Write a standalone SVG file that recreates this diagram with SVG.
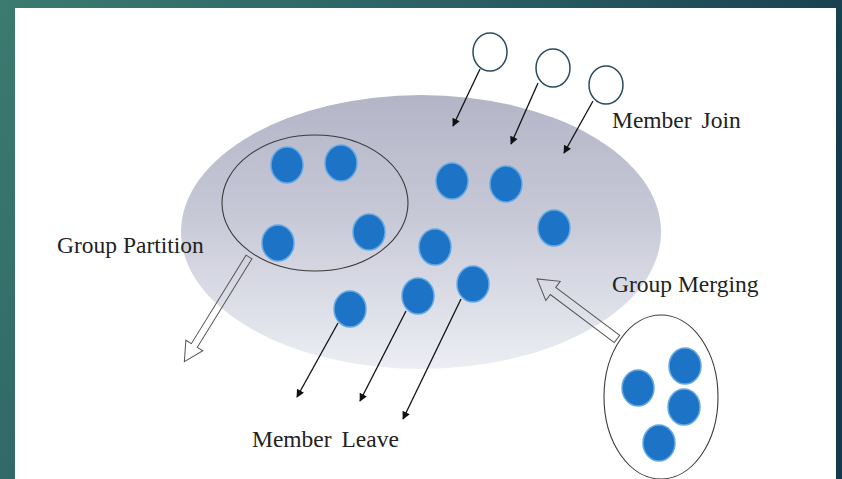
<svg xmlns="http://www.w3.org/2000/svg" width="842" height="479" viewBox="0 0 842 479">
  <defs>
    <linearGradient id="bg" x1="0" y1="0" x2="1" y2="0.35">
      <stop offset="0" stop-color="#3c7b70"/>
      <stop offset="0.5" stop-color="#2a5f64"/>
      <stop offset="1" stop-color="#143a4b"/>
    </linearGradient>
    <linearGradient id="groupFill" x1="0" y1="0" x2="0" y2="1">
      <stop offset="0" stop-color="#b3b4c6"/>
      <stop offset="0.45" stop-color="#c8c9d7"/>
      <stop offset="1" stop-color="#eceef4"/>
    </linearGradient>
    <marker id="tip" viewBox="0 0 10 10" refX="9" refY="5" markerWidth="9" markerHeight="8" markerUnits="userSpaceOnUse" orient="auto">
      <path d="M0,0 L10,5 L0,10 z" fill="#111"/>
    </marker>
    <style>
      .member { fill: #1d74c6; stroke: #63a9e3; stroke-width: 1.5; }
      .newcomer { fill: #ffffff; stroke: #2c4a5e; stroke-width: 1.5; }
      .outline { fill: none; stroke: #3a3a3a; stroke-width: 1.1; }
      .move { fill: none; stroke: #111; stroke-width: 1.3; marker-end: url(#tip); }
      .bulk { fill: none; stroke: #555; stroke-width: 1; }
      .label { font-family: "Liberation Serif", "Times New Roman", serif; font-size: 23.5px; fill: #222; }
    </style>
  </defs>

  <!-- page frame -->
  <rect x="0" y="0" width="842" height="479" fill="url(#bg)"/>
  <rect x="15" y="8" width="821" height="471" fill="#ffffff"/>

  <!-- main group -->
  <g id="main-group">
    <ellipse cx="421" cy="232" rx="240" ry="137" fill="url(#groupFill)"/>
    <ellipse class="member" cx="452" cy="181" rx="16" ry="18"/>
    <ellipse class="member" cx="506" cy="184" rx="16" ry="18"/>
    <ellipse class="member" cx="554" cy="228" rx="16" ry="18"/>
    <ellipse class="member" cx="435" cy="247" rx="16" ry="18"/>
    <ellipse class="member" cx="473" cy="284" rx="16" ry="18"/>
    <ellipse class="member" cx="418" cy="296" rx="16" ry="18"/>
    <ellipse class="member" cx="350" cy="309" rx="16" ry="18"/>
  </g>

  <!-- partitioned subgroup -->
  <g id="partition-group">
    <ellipse class="outline" cx="315" cy="203" rx="93" ry="68"/>
    <ellipse class="member" cx="287" cy="165" rx="16" ry="18"/>
    <ellipse class="member" cx="341" cy="163" rx="16" ry="18"/>
    <ellipse class="member" cx="278" cy="243" rx="16" ry="18"/>
    <ellipse class="member" cx="369" cy="232" rx="16" ry="18"/>
  </g>

  <!-- merging group -->
  <g id="merging-group">
    <ellipse class="outline" cx="661" cy="397" rx="57" ry="82"/>
    <ellipse class="member" cx="638" cy="388" rx="16" ry="18"/>
    <ellipse class="member" cx="685" cy="366" rx="16" ry="18"/>
    <ellipse class="member" cx="684" cy="407" rx="16" ry="18"/>
    <ellipse class="member" cx="659" cy="443" rx="16" ry="18"/>
  </g>

  <!-- joining members -->
  <g id="join-1"><ellipse class="newcomer" cx="490" cy="52" rx="17" ry="19"/></g>
  <g id="join-2"><ellipse class="newcomer" cx="553" cy="68" rx="17" ry="19"/></g>
  <g id="join-3"><ellipse class="newcomer" cx="606" cy="85" rx="17" ry="19"/></g>

  <!-- connectors -->
  <g id="connectors">
    <line class="move" x1="480" y1="69" x2="453" y2="126"/>
    <line class="move" x1="538" y1="83" x2="511" y2="144"/>
    <line class="move" x1="593" y1="101" x2="564" y2="153"/>
    <line class="move" x1="338" y1="323" x2="297" y2="397"/>
    <line class="move" x1="406" y1="311" x2="360" y2="401"/>
    <line class="move" x1="461" y1="299" x2="403" y2="419"/>
    <!-- block arrow: partition leaving -->
    <polygon class="bulk" transform="translate(249,257) rotate(121.7)"
             points="0,-3.5 104,-3.5 104,-10 123,0 104,10 104,3.5 0,3.5"/>
    <!-- block arrow: merging in -->
    <polygon class="bulk" transform="translate(617,339) rotate(216.9)"
             points="0,-4.5 80,-4.5 80,-12 100,0 80,12 80,4.5 0,4.5"/>
  </g>

  <!-- labels -->
  <g id="labels">
    <text class="label" x="612" y="128" word-spacing="4">Member Join</text>
    <text class="label" x="57" y="253">Group Partition</text>
    <text class="label" x="612" y="292">Group Merging</text>
    <text class="label" x="252" y="447" word-spacing="4">Member Leave</text>
  </g>
</svg>
